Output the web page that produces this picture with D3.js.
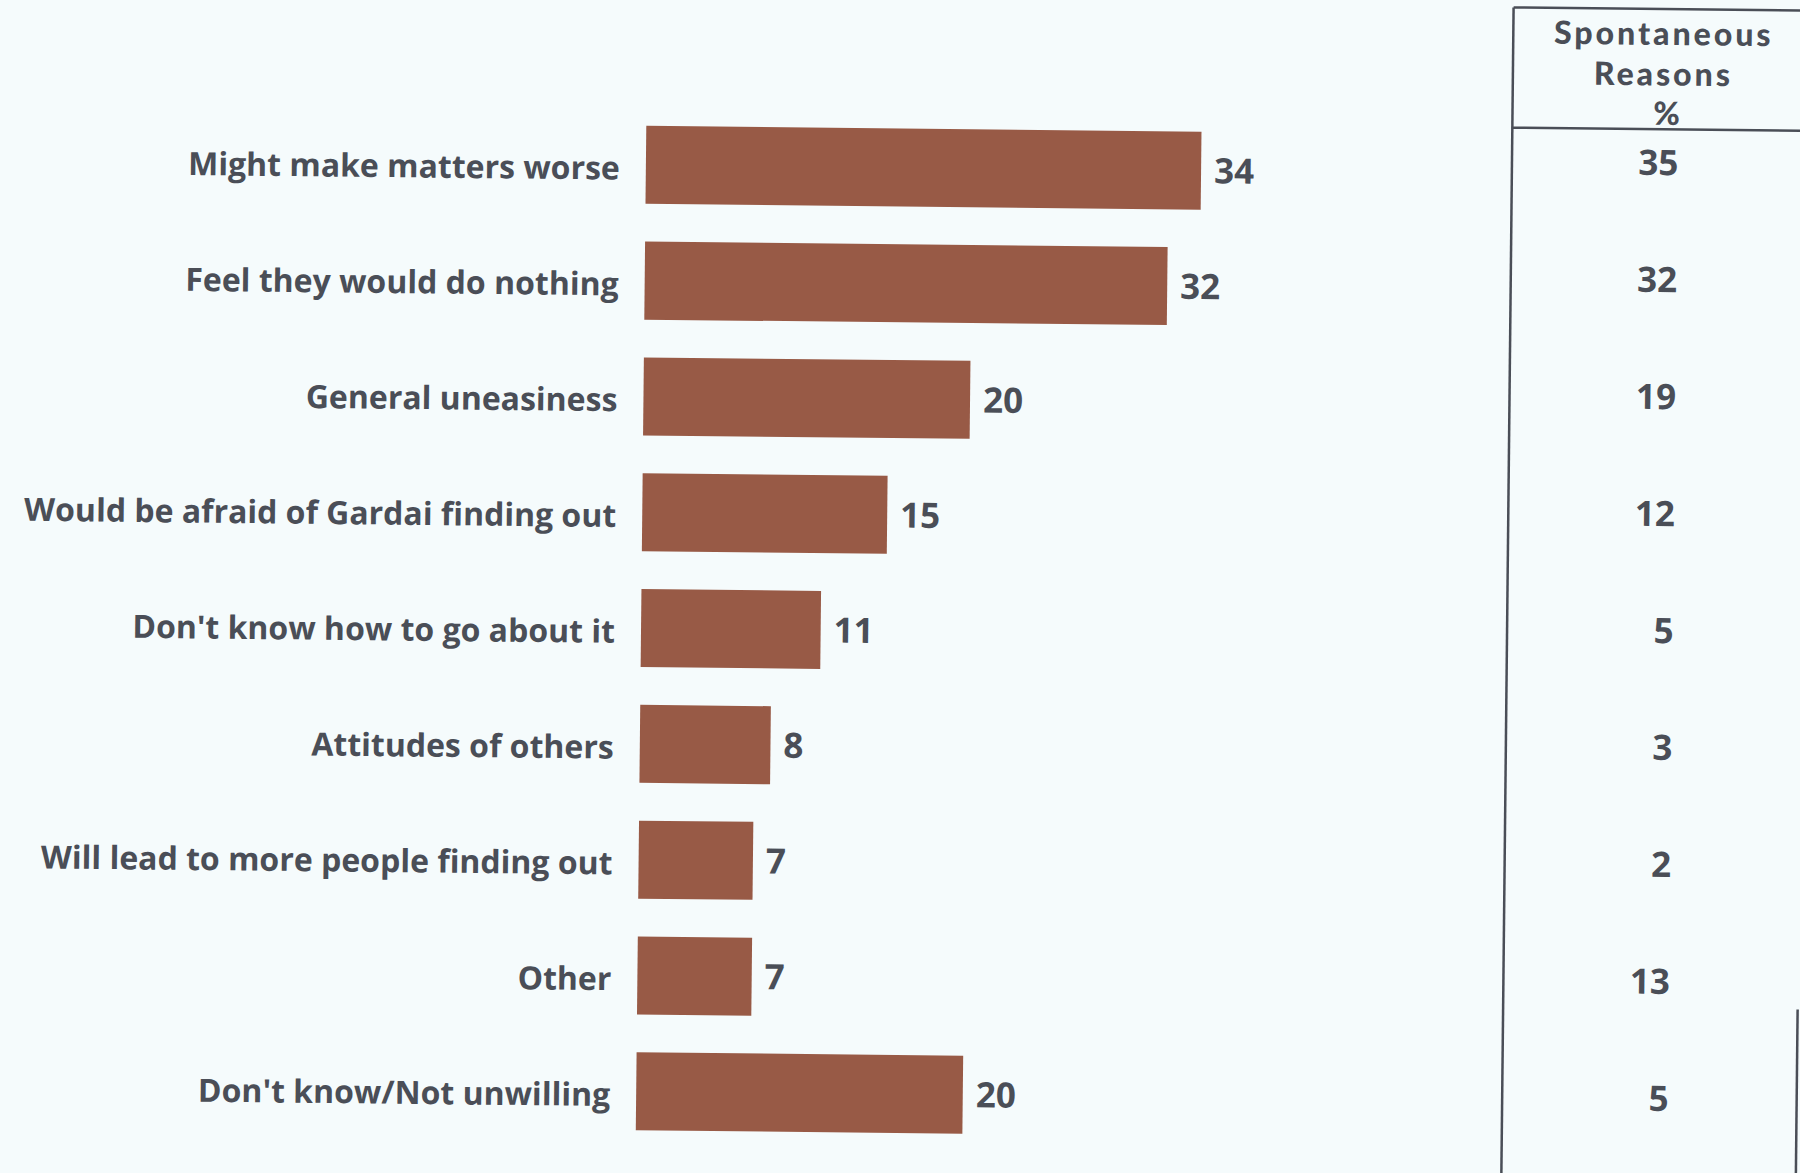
<!DOCTYPE html>
<html>
<head>
<meta charset="utf-8">
<script src="https://cdn.jsdelivr.net/npm/d3@7"></script>
<style>
  html, body { margin: 0; padding: 0; background: #f5fbfc; }
  svg { display: block; }
  text { font-family: "Open Sans", "Noto Sans", sans-serif; font-weight: 700; fill: #4a4e57; }
  text.head { font-family: Lato, "Open Sans", sans-serif; font-weight: 900; }
</style>
</head>
<body>
<svg id="chart" width="1800" height="1173"></svg>
<script>
// Reasons for not reporting, prompted list (bars) and spontaneous mentions (table column)
const categories = [
  "Might make matters worse",
  "Feel they would do nothing",
  "General uneasiness",
  "Would be afraid of Gardai finding out",
  "Don't know how to go about it",
  "Attitudes of others",
  "Will lead to more people finding out",
  "Other",
  "Don't know/Not unwilling"
];
const promptedValues = [34, 32, 20, 15, 11, 8, 7, 7, 20];
const spontaneousValues = [35, 32, 19, 12, 5, 3, 2, 13, 5];
const tableHeader = ["Spontaneous", "Reasons", "%"];

const svg = d3.select("#chart");
svg.append("rect").attr("width", 1800).attr("height", 1173).attr("fill", "#f5fbfc");

// the printed page sits slightly askew
const page = svg.append("g").attr("transform", "rotate(0.6, 900, 586)");

const y = d3.scaleBand()
  .domain(categories)
  .range([109.6, 1151.9])
  .paddingInner(0.3264)
  .paddingOuter(0.1632);

const x = d3.scaleLinear()
  .domain([0, 40])
  .range([641.5, 641.5 + 16.33 * 40]);

const rows = d3.scalePoint()
  .domain(categories)
  .range([154.6, 1090.4]);

const data = categories.map((c, i) => ({ cat: c, v: promptedValues[i], s: spontaneousValues[i] }));

// bars
page.selectAll("rect.bar")
  .data(data)
  .join("rect")
  .attr("class", "bar")
  .attr("x", x(0))
  .attr("y", d => y(d.cat))
  .attr("width", d => x(d.v) - x(0))
  .attr("height", y.bandwidth())
  .attr("fill", "#985a46");

// category labels
page.selectAll("text.cat")
  .data(data)
  .join("text")
  .attr("class", "cat")
  .attr("x", x(0) - 26)
  .attr("y", d => y(d.cat) + y.bandwidth() / 2 + 15)
  .attr("text-anchor", "end")
  .attr("font-size", 32)
  .text(d => d.cat);

// value labels
page.selectAll("text.val")
  .data(data)
  .join("text")
  .attr("class", "val")
  .attr("x", d => x(d.v) + 13)
  .attr("y", d => y(d.cat) + y.bandwidth() / 2 + 12.5)
  .attr("font-size", 35)
  .text(d => d.v);

// spontaneous reasons column
const colCenter = 1658;
page.selectAll("text.head")
  .data(tableHeader)
  .join("text")
  .attr("class", "head")
  .attr("x", (d, i) => i === 2 ? colCenter + 5 : colCenter)
  .attr("y", (d, i) => [37, 77.5, 117][i])
  .attr("text-anchor", "middle")
  .attr("font-size", 32)
  .attr("letter-spacing", 3)
  .text(d => d);

page.selectAll("text.spont")
  .data(data)
  .join("text")
  .attr("class", "spont")
  .attr("x", 1674)
  .attr("y", d => rows(d.cat) + 12.5)
  .attr("text-anchor", "end")
  .attr("font-size", 35)
  .text(d => d.s);

// table rules
const lines = [
  [1507.5, 1, 1830, 1],
  [1507.5, 121.3, 1830, 121.3],
  [1507.5, 1, 1507.5, 1200],
  [1802, 1000, 1802, 1200]
];
page.selectAll("line.rule")
  .data(lines)
  .join("line")
  .attr("class", "rule")
  .attr("x1", d => d[0]).attr("y1", d => d[1])
  .attr("x2", d => d[2]).attr("y2", d => d[3])
  .attr("stroke", "#4a4e57")
  .attr("stroke-width", 2.5);
</script>
</body>
</html>
